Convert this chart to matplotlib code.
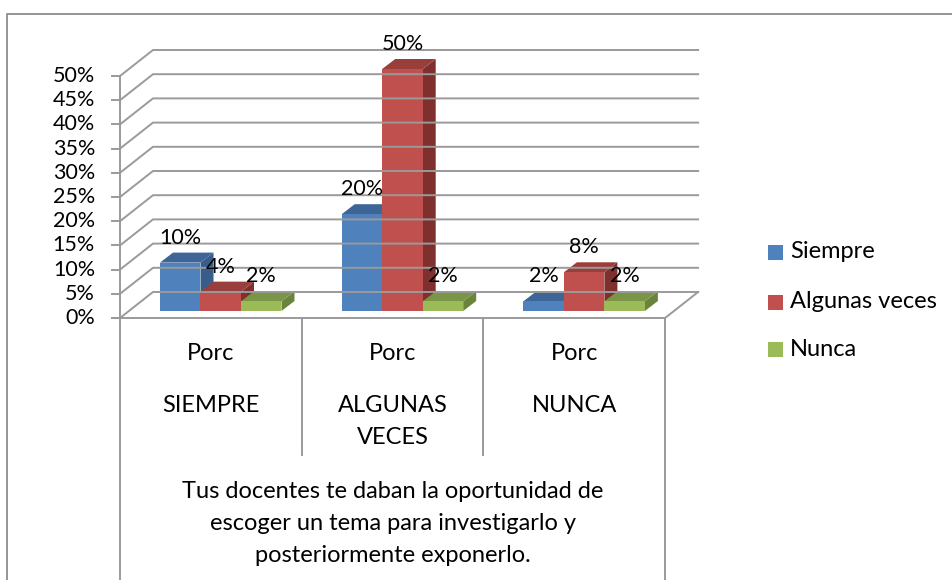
import matplotlib
matplotlib.use("Agg")
import matplotlib.pyplot as plt
from matplotlib.patches import Polygon, Rectangle

# ---------------- data ----------------
categories = ["SIEMPRE", "ALGUNAS\nVECES", "NUNCA"]
cat_top_label = "Porc"
series_names = ["Siempre", "Algunas veces", "Nunca"]
siempre = [10, 20, 2]
algunas_veces = [4, 50, 8]
nunca = [2, 2, 2]
y_ticks = [0, 5, 10, 15, 20, 25, 30, 35, 40, 45, 50]
axis_title = "Tus docentes te daban la oportunidad de\nescoger un tema para investigarlo y\nposteriormente exponerlo."

series_values = [siempre, algunas_veces, nunca]
front_colors = ["#4F81BD", "#C0504D", "#9BBB59"]
top_colors = ["#3E6598", "#9A3E3B", "#7A9546"]
side_colors = ["#385D8A", "#7F302E", "#6B843C"]

plt.rcParams["font.family"] = ["Lato", "DejaVu Sans"]
FS_NUM = 15.5
FS_TXT = 17
GRID = "#9A9A9A"

fig = plt.figure(figsize=(9.53, 5.8), dpi=100)
ax = fig.add_axes([0, 0, 1, 1])
ax.set_xlim(0, 953)
ax.set_ylim(580, 0)
ax.axis("off")

# geometry of the pseudo-3D box (pixels)
X0, Y0 = 120.0, 318.0          # front-left bottom corner
CAT_W = 181.7                   # width of one category
UNIT = 24.2 / 5.0               # pixels per percent
DX, DY = 33.0, -26.0            # wall depth offset
X_END = X0 + CAT_W * len(categories)

def yfront(v):
    return Y0 - v * UNIT

# outer frame
ax.plot([7, 7, 953], [580, 14, 14], color="#8C8C8C", lw=1.3, solid_capstyle="butt")

# gridlines: left wall diagonal + back wall horizontal
for t in y_ticks:
    yf = yfront(t)
    ax.plot([X0, X0 + DX, X_END + DX], [yf, yf + DY, yf + DY], color=GRID, lw=1.4)
    ax.plot([X0 - 8, X0], [yf, yf], color=GRID, lw=1.4)
    ax.text(X0 - 25, yf, f"{t}%", ha="right", va="center", fontsize=FS_NUM, color="#000000")
# front vertical axis
ax.plot([X0, X0], [yfront(y_ticks[-1]), Y0], color=GRID, lw=1.4)
# floor right diagonal
ax.plot([X_END, X_END + DX], [Y0, Y0 + DY], color=GRID, lw=1.4)

# category table
ax.plot([X0 - 8, X_END], [Y0, Y0], color=GRID, lw=1.4)
for i in range(len(categories) + 1):
    xe = X0 + i * CAT_W
    bottom = 580 if i in (0, len(categories)) else 455
    ax.plot([xe, xe], [Y0, bottom], color=GRID, lw=1.4)
for i, c in enumerate(categories):
    xc = X0 + (i + 0.5) * CAT_W
    ax.text(xc, 353, cat_top_label, ha="center", va="center", fontsize=FS_TXT)
    for k, ln in enumerate(c.split("\n")):
        ax.text(xc, 406 + k * 31, ln, ha="center", va="center", fontsize=FS_TXT)
for k, ln in enumerate(axis_title.split("\n")):
    ax.text(X0 + 1.5 * CAT_W, 492 + k * 31.5, ln, ha="center", va="center", fontsize=FS_TXT)

# bars
BAR_W = 40.5
BAR_BASE = 311.0
BAR_OFF = 40.0
BDX, BDY = 13.0, -10.0
for ci in range(len(categories)):
    for si, vals in enumerate(series_values):
        v = vals[ci]
        xl = X0 + ci * CAT_W + BAR_OFF + si * BAR_W
        xr = xl + BAR_W
        yt = BAR_BASE - v * UNIT
        ax.add_patch(Polygon([[xr, BAR_BASE], [xr + BDX, BAR_BASE + BDY],
                              [xr + BDX, yt + BDY], [xr, yt]],
                             closed=True, fc=side_colors[si], ec="none"))
        ax.add_patch(Polygon([[xl, yt], [xl + BDX, yt + BDY],
                              [xr + BDX, yt + BDY], [xr, yt]],
                             closed=True, fc=top_colors[si], ec="none"))
        ax.add_patch(Rectangle((xl, yt), BAR_W, BAR_BASE - yt,
                               fc=front_colors[si], ec="none"))
# data labels
for ci in range(len(categories)):
    for si, vals in enumerate(series_values):
        v = vals[ci]
        xc = X0 + ci * CAT_W + BAR_OFF + (si + 0.5) * BAR_W
        yt = BAR_BASE - v * UNIT
        ax.text(xc, yt - 25, f"{v}%", ha="center", va="center", fontsize=FS_NUM)

# legend
leg_y = [252, 302, 349]
for si, name in enumerate(series_names):
    ax.add_patch(Rectangle((768, leg_y[si] - 7.5), 15, 15, fc=front_colors[si], ec="none"))
    ax.text(790, leg_y[si], name, ha="left", va="center", fontsize=FS_TXT)

fig.savefig("out.png", dpi=100)
